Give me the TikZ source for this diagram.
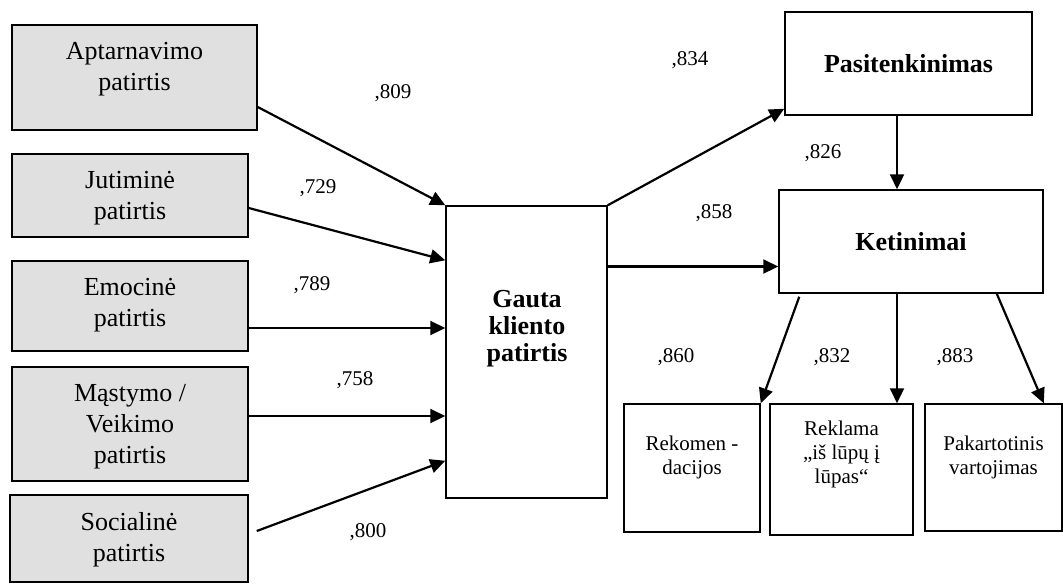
\documentclass[tikz,border=0pt]{standalone}
\usepackage{fontspec}
\setmainfont{Liberation Serif}
\usetikzlibrary{arrows.meta}
\definecolor{boxgrey}{gray}{0.88}
\tikzset{
  greybox/.style={draw, line width=0.75pt, fill=boxgrey, inner sep=0pt},
  plainbox/.style={draw, line width=0.75pt, fill=white, inner sep=0pt},
  boxtext/.style={anchor=north, align=center, inner sep=0pt, font=\fontsize{13}{15.5}\selectfont},
  smalltext/.style={anchor=north, align=center, inner sep=0pt, font=\fontsize{10.5}{12}\selectfont},
  coef/.style={inner sep=0pt, font=\fontsize{10.5}{12}\selectfont},
  link/.style={-{Triangle[length=7.5pt,width=7pt]}, line width=1.1pt}
}

\begin{document}
\begin{tikzpicture}[x=0.5pt,y=-0.5pt]
    \useasboundingbox (0,0) rectangle (1063,584);
    % patirties dimensijos
    \node[greybox, minimum width=122.5pt, minimum height=52.5pt] (apt) at (134.5,77.5) {};
    \node[greybox, minimum width=118pt, minimum height=41.5pt] (jut) at (130,195.5) {};
    \node[greybox, minimum width=118pt, minimum height=45pt] (emo) at (130,306) {};
    \node[greybox, minimum width=118pt, minimum height=57pt] (mas) at (130,424) {};
    \node[greybox, minimum width=119pt, minimum height=43.5pt] (soc) at (129,538.5) {};
    \node[boxtext, yshift=-8.75pt] at (apt.north) {Aptarnavimo\\patirtis};
    \node[boxtext, yshift=-8.75pt] at (jut.north) {Jutiminė\\patirtis};
    \node[boxtext, yshift=-8.75pt] at (emo.north) {Emocinė\\patirtis};
    \node[boxtext, yshift=-8.75pt] at (mas.north) {Mąstymo /\\Veikimo\\patirtis};
    \node[boxtext, yshift=-8.75pt] at (soc.north) {Socialinė\\patirtis};
    %
    \node[plainbox, minimum width=80.5pt, minimum height=146pt] (gauta) at (526.5,352) {};
    \node[align=center, inner sep=0pt, font=\bfseries\fontsize{13}{13.5}\selectfont] at (527,329) {Gauta\\kliento\\patirtis};
    \node[plainbox, minimum width=123.5pt, minimum height=51.5pt, font=\bfseries\fontsize{13}{15}\selectfont] (pas) at (908.5,63.5) {Pasitenkinimas};
    \node[plainbox, minimum width=132pt, minimum height=51.5pt, font=\bfseries\fontsize{13}{15}\selectfont] (ket) at (911,241.5) {Ketinimai};
    % ketinimu rusys
    \node[plainbox, minimum width=68pt, minimum height=64pt] (rek) at (692,468) {};
    \node[plainbox, minimum width=71.5pt, minimum height=65.5pt] (rkl) at (841.5,469.5) {};
    \node[plainbox, minimum width=68.5pt, minimum height=63.5pt] (pak) at (993.5,467.5) {};
    \node[smalltext, yshift=-16pt] at (rek.north) {Rekomen -\\dacijos};
    \node[smalltext, yshift=-8.5pt] at (rkl.north) {Reklama\\„iš lūpų į\\lūpas“};
    \node[smalltext, yshift=-16pt] at (pak.north) {Pakartotinis\\vartojimas};
    %
    \coordinate (emo-out) at ([yshift=-11pt]emo.east);
    \coordinate (mas-out) at ([yshift=4pt]mas.east);
    \coordinate (ket-in) at ([yshift=-12.5pt]ket.west);
    \coordinate (pas-out) at ([xshift=-5.75pt]pas.south);
    \coordinate (rkl-in) at ([xshift=27.75pt]rkl.north);
    \draw[link] ([yshift=-14.75pt]apt.east) -- (gauta.north west);
    \draw[link] ([yshift=-6.25pt]jut.east) -- ([yshift=-27.5pt]gauta.north west);
    \draw[link] (emo-out) -- (emo-out -| gauta.west);
    \draw[link] (mas-out) -- (mas-out -| gauta.west);
    \draw[link] ([xshift=4pt,yshift=3.75pt]soc.east) -- ([yshift=19pt]gauta.south west);
    \draw[link] (gauta.north east) -- ([yshift=3.5pt]pas.south west);
    \draw[link] (ket-in -| gauta.east) -- (ket-in);
    \draw[link] (pas-out) -- (pas-out |- ket.north);
    \draw[link] ([xshift=10.5pt,yshift=-1.5pt]ket.south west) -- (rek.north east);
    \draw[link] (rkl-in |- ket.south) -- (rkl-in);
    \draw[link] ([xshift=-23.5pt]ket.south east) -- ([xshift=-9.5pt]pak.north east);
    % koeficientai
    \node[coef] (c-apt) at (393,93) {,809};
    \node[coef] (c-jut) at (318,188) {,729};
    \node[coef] (c-emo) at (312,285) {,789};
    \node[coef] (c-mas) at (355,380) {,758};
    \node[coef] (c-soc) at (368,532) {,800};
    \node[coef] (c-pas) at (690,60) {,834};
    \node[coef] (c-pk) at (823,153) {,826};
    \node[coef] (c-ket) at (714,213) {,858};
    \node[coef] (c-rek) at (676,357) {,860};
    \node[coef] (c-rkl) at (832,357) {,832};
    \node[coef] (c-pak) at (955,357) {,883};
\end{tikzpicture}
\end{document}
